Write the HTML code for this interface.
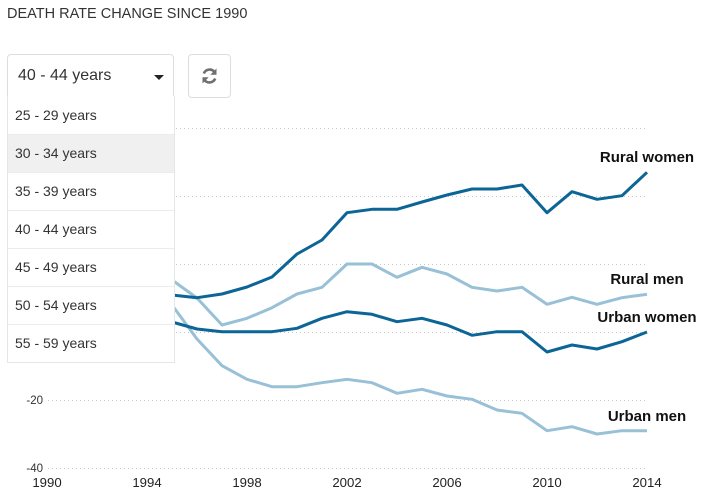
<!DOCTYPE html>
<html><head><meta charset="utf-8"><style>
html,body{margin:0;padding:0;background:#fff;width:709px;height:499px;overflow:hidden;font-family:"Liberation Sans",Arial,sans-serif;}
.title{position:absolute;left:7px;top:6px;font-size:14.5px;color:#333;letter-spacing:0;white-space:nowrap;}
svg{position:absolute;left:0;top:0;}
.sel{position:absolute;left:7px;top:54px;width:165px;height:41px;border:1px solid #ddd;border-radius:4px 4px 0 0;background:#fff;}
.sel span{position:absolute;left:10px;top:12px;font-size:16px;color:#333;white-space:nowrap;}
.caret{position:absolute;left:146px;top:20px;width:0;height:0;border-left:5.5px solid transparent;border-right:5.5px solid transparent;border-top:5px solid #222;}
.btn{position:absolute;left:188px;top:54px;width:41px;height:42px;border:1px solid #ddd;border-radius:4px;background:#fff;}
.list{position:absolute;left:7px;top:96px;width:166px;border:1px solid #e6e6e6;border-top:none;background:#fff;}
.item{height:37px;border-top:1px solid #ececec;font-size:14px;color:#333;line-height:37px;padding-left:7px;white-space:nowrap;}
.item:first-child{border-top:none;height:38px;line-height:38px;}
.item.hl{background:#f0f0f0;}
</style></head><body>
<div class="title">DEATH RATE CHANGE SINCE 1990</div>
<svg width="709" height="499" viewBox="0 0 709 499">
<g stroke="#c8c8c8" stroke-width="1" stroke-dasharray="1,3">
<line x1="48" y1="128.5" x2="645" y2="128.5"/>
<line x1="48" y1="196.5" x2="645" y2="196.5"/>
<line x1="48" y1="264.5" x2="645" y2="264.5"/>
<line x1="48" y1="332.5" x2="645" y2="332.5"/>
<line x1="48" y1="400.5" x2="645" y2="400.5"/>
<line x1="48" y1="468.5" x2="645" y2="468.5"/>
</g>
<g font-family="Liberation Sans, Arial, sans-serif" font-size="11.5" fill="#333" text-anchor="end">
<text x="43" y="404">-20</text>
<text x="43" y="472">-40</text>
</g>
<g font-family="Liberation Sans, Arial, sans-serif" font-size="13.2" fill="#222" text-anchor="middle">
<text x="47" y="487">1990</text>
<text x="147" y="487">1994</text>
<text x="247" y="487">1998</text>
<text x="347" y="487">2002</text>
<text x="447" y="487">2006</text>
<text x="547" y="487">2010</text>
<text x="647" y="487">2014</text>
</g>
<g fill="none" stroke-width="3" stroke-linejoin="round" stroke-linecap="butt">
<polyline stroke="#98c0d6" points="47,332 122,320 147,300 172,305 197,339 222,365.7 247,379.3 272,386.7 297,386.7 322,382.7 347,379.3 372,382.7 397,393.3 422,389.3 447,396 472,399.3 497,410 522,413.3 547,430.7 572,426.7 597,434 622,430.7 647,430.7"/>
<polyline stroke="#98c0d6" points="47,332 122,300 147,285 172,280 197,298 222,325 247,318.3 272,307.7 297,294 322,287.3 347,264 372,264 397,277.3 422,267.3 447,274 472,287.3 497,291 522,287.3 547,304.3 572,297.3 597,304.3 622,297.7 647,294.3"/>
<polyline stroke="#0b6596" points="47,332 122,325 147,320 172,322 197,329 222,331.7 247,331.7 272,331.7 297,328.3 322,318.3 347,311.7 372,314.3 397,321.7 422,318.3 447,325 472,335.3 497,331.7 522,331.7 547,352 572,345 597,349 622,341.7 647,332"/>
<polyline stroke="#0b6596" points="47,332 122,300 147,293 172,295 197,297.7 222,294 247,287 272,277 297,254 322,240 347,212.7 372,209.3 397,209.3 422,202 447,195 472,189 497,189 522,185 547,212.7 572,191.7 597,199.3 622,195.7 647,172.3"/>
</g>
<g font-family="Liberation Sans, Arial, sans-serif" font-size="15" font-weight="bold" fill="#111" text-anchor="middle">
<text x="647" y="162">Rural women</text>
<text x="647" y="284">Rural men</text>
<text x="647" y="322">Urban women</text>
<text x="647" y="421">Urban men</text>
</g>
</svg>
<div class="sel"><span>40 - 44 years</span><div class="caret"></div></div>
<div class="btn">
<svg width="41" height="42" viewBox="0 0 41 42" style="position:absolute;left:0;top:0">
<g fill="none" stroke="#6f6f6f" stroke-width="2.6">
<path d="M14.8,18.5 A6.2,6.2 0 0 1 25.5,17"/>
<path d="M26.2,23.5 A6.2,6.2 0 0 1 15.5,25"/>
</g>
<polygon points="27.5,13.5 27.5,19.8 21.3,19.8" fill="#6f6f6f"/>
<polygon points="13.5,28.5 13.5,22.2 19.7,22.2" fill="#6f6f6f"/>
</svg>
</div>
<div class="list">
<div class="item">25 - 29 years</div>
<div class="item hl">30 - 34 years</div>
<div class="item">35 - 39 years</div>
<div class="item">40 - 44 years</div>
<div class="item">45 - 49 years</div>
<div class="item">50 - 54 years</div>
<div class="item">55 - 59 years</div>
</div>
</body></html>
